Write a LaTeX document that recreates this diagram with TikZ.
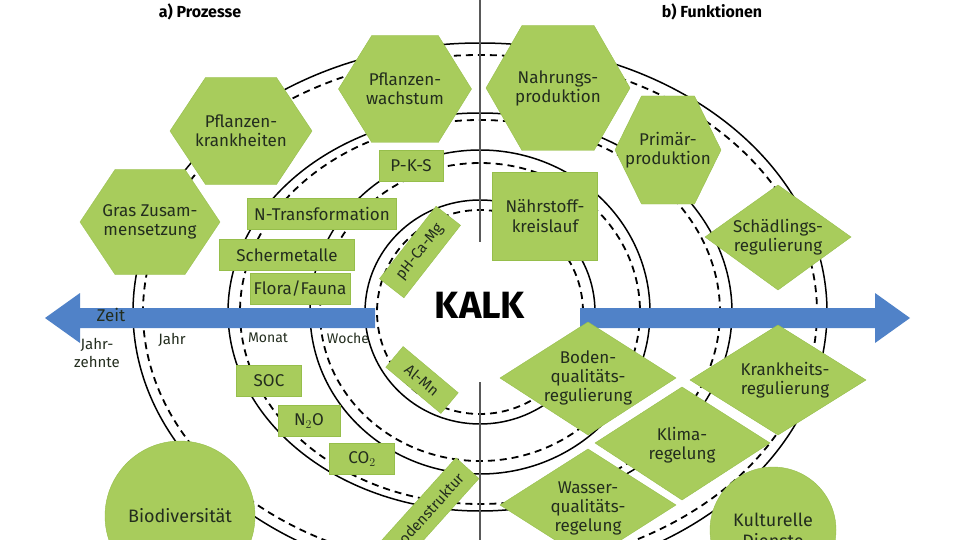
\documentclass[tikz,border=0pt]{standalone}
\usepackage{fontspec}
\setmainfont{Fira Sans}
\usetikzlibrary{shapes.geometric,calc}
\definecolor{kg}{RGB}{168,204,92}
\definecolor{kgd}{RGB}{150,190,75}
\definecolor{kb}{RGB}{80,130,200}
\definecolor{kt}{RGB}{35,45,30}
\newcommand{\myhex}[4]{\fill[kg,draw=kgd] ({#1-#3/2},#2) -- ({#1-#3/4},{#2-#4/2}) -- ({#1+#3/4},{#2-#4/2}) -- ({#1+#3/2},#2) -- ({#1+#3/4},{#2+#4/2}) -- ({#1-#3/4},{#2+#4/2}) -- cycle;}
\begin{document}
\begin{tikzpicture}[x=1pt,y=-1pt,
 every node/.style={text=kt,font=\fontsize{17}{19}\selectfont,align=center},
 box/.style={fill=kg,draw=kgd,inner sep=0pt,minimum height=31,font=\fontsize{17}{19}\selectfont},
 circ/.style={circle,fill=kg,draw=kgd,inner sep=0pt,font=\fontsize{18}{21}\selectfont},
 sol/.style={line width=1.5pt,black},
 das/.style={line width=1.8pt,black,dash pattern=on 7pt off 5pt},
 lab/.style={font=\fontsize{14}{17}\selectfont}]
\useasboundingbox (0,0) rectangle (960,540);
\clip (0,0) rectangle (960,540);
\coordinate (c) at (480,312);
\draw[sol] (c) ellipse [x radius=347,y radius=269];
\draw[das] (c) ellipse [x radius=337,y radius=257];
\draw[sol] (c) ellipse [x radius=252,y radius=199];
\draw[das] (c) ellipse [x radius=240,y radius=192];
\draw[sol] (c) ellipse [x radius=170,y radius=162];
\draw[das] (c) ellipse [x radius=160,y radius=149];
\draw[sol] (c) ellipse [x radius=115,y radius=112];
\draw[das] (c) ellipse [x radius=103,y radius=102];
\draw[gray!70!black,line width=1.5pt] (480,0) -- (480,540);
\fill[white] (c) ellipse [x radius=95,y radius=70];
\fill[kb] (375,308) -- (80,308) -- (80,293) -- (45,318) -- (80,343) -- (80,328) -- (375,328) -- cycle;
\fill[kb] (580,308) -- (875,308) -- (875,293) -- (910,318) -- (875,343) -- (875,328) -- (580,328) -- cycle;
\node[font=\bfseries\fontsize{16}{18}\selectfont,text=black] (ta) at (200,12) {a) Prozesse};
\node[font=\bfseries\fontsize{16}{18}\selectfont,text=black] (tb) at (712,12) {b) Funktionen};
\node[font=\bfseries\fontsize{38}{42}\selectfont,text=black] (kalk) at (480,305) {KALK};
\node[font=\fontsize{17}{19}\selectfont,text=kt] (zeit) at (111,315) {Zeit};
\node[lab,font=\fontsize{15}{18}\selectfont] (jz) at (97,353) {Jahr-\\zehnte};
\node[lab,font=\fontsize{15}{18}\selectfont] (jahr) at (172,340) {Jahr};
\node[lab] (monat) at (268,338) {Monat};
\node[lab] (woche) at (348,338) {Woche};
\myhex{405}{89}{133}{107}
\node (pw) at (405,89) {Pflanzen-\\wachstum};
\myhex{241}{131}{142}{107}
\node (pk) at (241,131) {Pflanzen-\\krankheiten};
\myhex{150}{222}{140}{105}
\node (gz) at (150,222) {Gras Zusam-\\mensetzung};
\myhex{558}{88}{144}{125}
\node (np) at (558,88) {Nahrungs-\\produktion};
\myhex{668}{150}{106}{108}
\node (pp) at (668,150) {Primär-\\produktion};
\node[box,minimum width=64] (pks) at (411,166) {P-K-S};
\node[box,minimum width=149] (nt) at (322,214) {N-Transformation};
\node[box,minimum width=135] (sm) at (287,255) {Schermetalle};
\node[box,minimum width=100] (ff) at (300,289) {Flora/Fauna};
\node[box,minimum width=92,rotate=52,font=\fontsize{15}{17}\selectfont] (ph) at (420,252) {pH-Ca-Mg};
\node[box,minimum width=72,minimum height=27,rotate=-40,font=\fontsize{15}{17}\selectfont] (al) at (422,380) {Al-Mn};
\node[box,minimum width=65] (soc) at (269,381) {SOC};
\node[box,minimum width=62] (n2o) at (309,421) {N$_2$O};
\node[box,minimum width=65] (co2) at (362,459) {CO$_2$};
\node[box,minimum width=118,rotate=48,font=\fontsize{15}{17}\selectfont] (bs) at (428,512) {Bodenstruktur};
\node[box,minimum width=105,minimum height=88,font=\fontsize{17}{20}\selectfont] (nk) at (545,216) {Nährstoff-\\kreislauf};
\fill[kg,draw=kgd] (705,237) -- (778,185) -- (851,237) -- (778,290) -- cycle;
\node (sr) at (778,237) {Schädlings-\\regulierung};
\fill[kg,draw=kgd] (500,378) -- (588,322) -- (676,378) -- (588,435) -- cycle;
\node (bq) at (588,378) {Boden-\\qualitäts-\\regulierung};
\fill[kg,draw=kgd] (690,380) -- (778,325) -- (866,380) -- (778,435) -- cycle;
\node (kr) at (785,380) {Krankheits-\\regulierung};
\fill[kg,draw=kgd] (595,443) -- (682,387) -- (770,443) -- (682,500) -- cycle;
\node (kl) at (682,445) {Klima-\\regelung};
\fill[kg,draw=kgd] (500,505) -- (588,449) -- (676,505) -- (588,561) -- cycle;
\node (wq) at (588,508) {Wasser-\\qualitäts-\\regelung};
\node[circ,minimum size=150] (bd) at (180,516) {Biodiversität};
\node[circ,minimum size=126] (kd) at (773,530) {Kulturelle\\Dienste};
\end{tikzpicture}
\end{document}
